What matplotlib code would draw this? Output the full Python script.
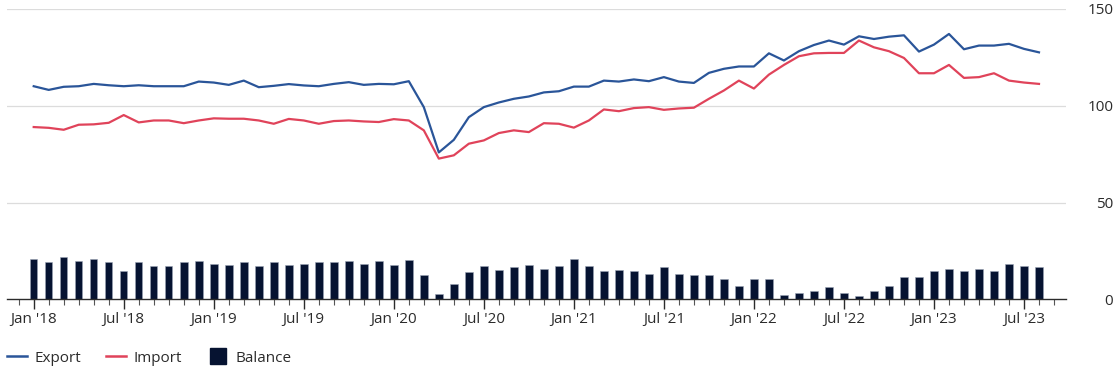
import numpy as np, pandas as pd
import matplotlib; matplotlib.use("Agg")
import matplotlib.pyplot as plt
from matplotlib.lines import Line2D

plt.rcParams["font.family"] = ["Open Sans", "DejaVu Sans"]

# monthly index values, Jan 2018 - Aug 2023
months = pd.date_range("2018-01-01", periods=68, freq="MS")

export = [110.1, 108.2, 109.8, 110.1, 111.3, 110.6, 110.1, 110.6, 110.1, 110.1,
          110.1, 112.5, 112.0, 110.8, 113.0, 109.6, 110.3, 111.2, 110.5, 110.1,
          111.3, 112.2, 110.8, 111.3, 111.1, 112.7, 99.3, 75.9, 82.4, 94.1,
          99.3, 101.7, 103.6, 104.8, 106.9, 107.5, 109.9, 109.9, 113.0, 112.5,
          113.6, 112.7, 114.8, 112.5, 111.8, 117.0, 119.1, 120.3, 120.3, 127.1,
          123.4, 128.2, 131.4, 133.7, 131.6, 135.9, 134.5, 135.7, 136.4, 128.0,
          131.6, 137.1, 129.2, 131.1, 131.1, 132.0, 129.4, 127.6]

imports = [89.0, 88.6, 87.6, 90.2, 90.4, 91.2, 95.2, 91.4, 92.4, 92.4,
           91.0, 92.4, 93.5, 93.3, 93.3, 92.4, 90.7, 93.2, 92.4, 90.7,
           92.1, 92.4, 91.9, 91.6, 93.1, 92.4, 87.3, 72.7, 74.4, 80.4,
           82.1, 85.9, 87.3, 86.4, 91.0, 90.7, 88.7, 92.4, 98.1, 97.2,
           98.8, 99.3, 97.9, 98.6, 99.0, 103.6, 107.9, 113.0, 108.9, 116.1,
           121.1, 125.6, 127.1, 127.3, 127.3, 133.7, 130.2, 128.2, 124.7, 116.8,
           116.8, 121.1, 114.4, 114.8, 116.8, 113.0, 112.0, 111.3]

balance = [20.9, 19.1, 21.8, 19.7, 20.7, 19.1, 14.6, 19.1, 17.3, 17.3,
           19.1, 19.7, 18.4, 17.8, 19.1, 17.3, 19.1, 17.8, 18.4, 19.1,
           19.1, 19.7, 18.4, 19.7, 17.8, 20.3, 12.7, 2.8, 8.0, 13.9,
           17.3, 15.3, 16.6, 17.8, 15.8, 17.3, 20.9, 17.3, 14.6, 15.3,
           14.6, 13.2, 16.6, 13.2, 12.7, 12.7, 10.6, 7.0, 10.6, 10.6,
           2.3, 3.0, 4.2, 6.1, 3.5, 1.6, 4.2, 7.0, 11.5, 11.5,
           14.6, 15.8, 14.6, 15.8, 14.6, 18.4, 17.3, 16.6]

BLUE = "#2a5599"; RED = "#e0435a"; NAVY = "#061331"; TXT = "#2b2b2b"
FS = 11

x = np.arange(len(months))
fig = plt.figure(figsize=(11.18, 3.67), dpi=100)
ax = fig.add_axes([7/1118, 1-299.3/367, (1066-7)/1118, (299.3-9)/367])

ax.bar(x, balance, width=0.5, color=NAVY, edgecolor="#9aa3b5", linewidth=0.4, zorder=2)
ax.plot(x, export, color=BLUE, lw=1.6, zorder=3)
ax.plot(x, imports, color=RED, lw=1.6, zorder=3)

ax.set_xlim(-1.78, 68.8)
ax.set_ylim(0, 150)
ax.set_yticks([0, 50, 100, 150])
for y in [50, 100, 150]:
    ax.axhline(y, color="#dcdcdc", lw=0.9, zorder=1)

ax.yaxis.tick_right()
ax.tick_params(axis="y", length=0, pad=34, labelsize=FS, labelcolor=TXT)
for lab in ax.get_yticklabels():
    lab.set_ha("right")

major = [i for i in x if months[i].month in (1, 7)]
ax.set_xticks(major)
ax.set_xticklabels([months[i].strftime("%b '%y") for i in major])
ax.set_xticks(np.arange(-1, 69), minor=True)
ax.tick_params(axis="x", which="major", length=7, width=1, color=TXT,
               labelsize=FS, labelcolor=TXT, pad=2)
ax.tick_params(axis="x", which="minor", length=4.5, width=0.8, color="#555555")

for s in ["top", "left", "right"]:
    ax.spines[s].set_visible(False)
ax.spines["bottom"].set_color(TXT)
ax.spines["bottom"].set_linewidth(1)
ax.spines["bottom"].set_zorder(4)

handles = [Line2D([], [], color=BLUE, lw=1.8),
           Line2D([], [], color=RED, lw=1.8),
           Line2D([], [], color=NAVY, lw=0, marker="s", markersize=11.5)]
fig.legend(handles, ["Export", "Import", "Balance"], loc="center left",
           bbox_to_anchor=(7/1118, 9/367), ncol=3, frameon=False, fontsize=FS,
           handlelength=1.3, handletextpad=0.5, columnspacing=1.65,
           borderpad=0, borderaxespad=0, labelcolor=TXT)

fig.savefig("out.png", dpi=100)
